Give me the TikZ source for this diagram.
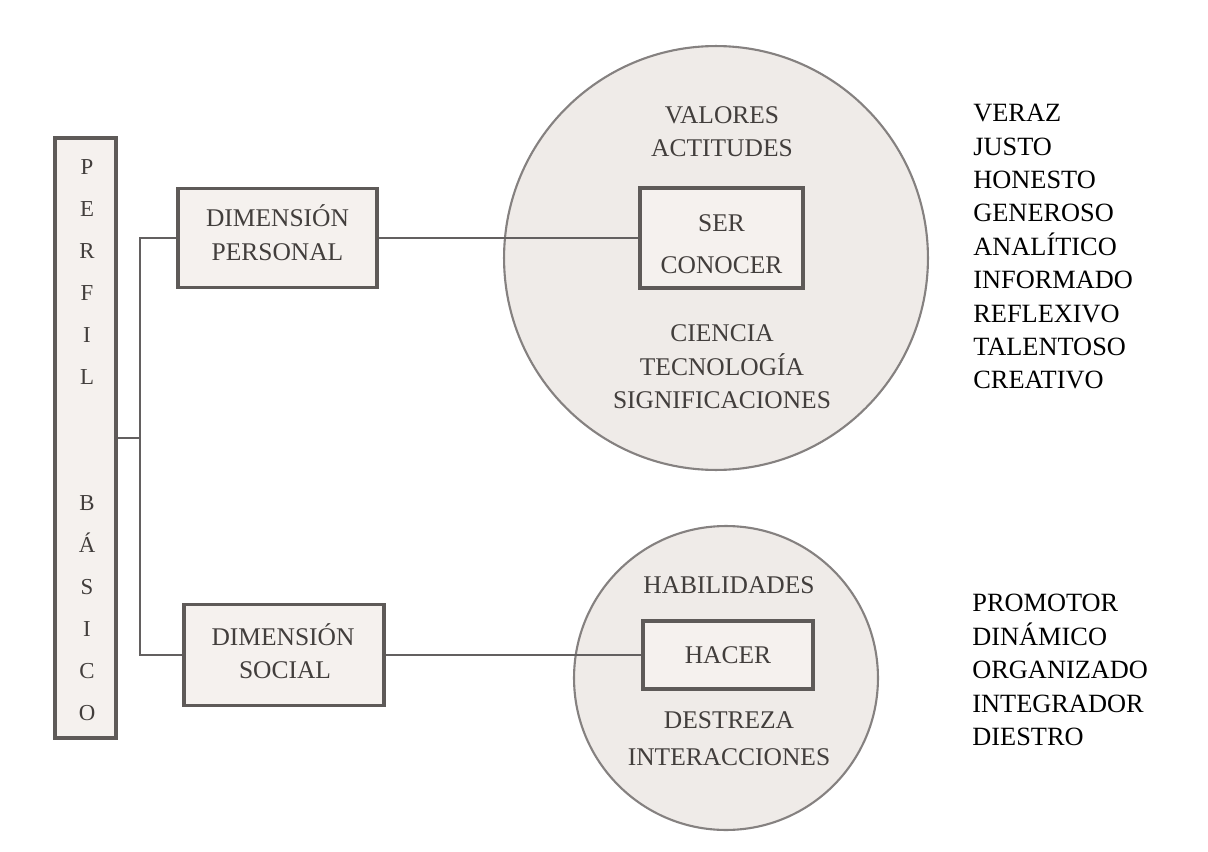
\documentclass[tikz,border=0pt]{standalone}
\usepackage{fontspec}
\setmainfont{Liberation Serif}
\definecolor{boxline}{HTML}{5E5A58}
\definecolor{boxfill}{HTML}{F5F1EE}
\definecolor{circfill}{HTML}{EFEBE8}
\definecolor{circline}{HTML}{858180}
\definecolor{textg}{HTML}{423E3C}
\definecolor{conncol}{HTML}{636060}
\tikzset{
  boxst/.style={draw=boxline, line width=1.9pt, fill=boxfill, inner sep=0pt},
  circst/.style={circle, draw=circline, line width=1.2pt, fill=circfill, inner sep=0pt},
  gtxt/.style={text=textg, font=\fontsize{14.5pt}{17pt}\selectfont, inner sep=0pt, text height=9.6pt, text depth=0pt},
  ptxt/.style={text=textg, font=\fontsize{13pt}{15pt}\selectfont, inner sep=0pt, text height=8.6pt, text depth=0pt},
  ktxt/.style={text=black, font=\fontsize{15pt}{18pt}\selectfont, inner sep=0pt, text height=9.9pt, text depth=0pt, anchor=west},
  conn/.style={draw=conncol, line width=1.7pt},
}
\begin{document}
\begin{tikzpicture}[x=0.02cm,y=-0.02cm]
\fill[white] (0,0) rectangle (1208,852);
\useasboundingbox (0,0) rectangle (1208,852);

% circles
\node[circst, minimum size=8.48cm] (bigc) at (716,258) {};
\node[circst, minimum size=6.08cm] (smallc) at (726,678) {};

% boxes
\node[boxst, minimum width=1.22cm, minimum height=12cm] (perfil) at (85.5,438) {};
\node[boxst, minimum width=3.98cm, minimum height=1.98cm] (dp) at (277.5,238) {};
\node[boxst, minimum width=4cm, minimum height=2.02cm] (ds) at (284,655) {};
\node[boxst, minimum width=3.26cm, minimum height=2cm] (ser) at (721.5,238) {};
\node[boxst, minimum width=3.4cm, minimum height=1.36cm] (hacer) at (728,655) {};

% connectors
\coordinate (jx) at (140,438);
\draw[conn] (perfil.east) -- (jx);
\draw[conn] (dp.west) -- (dp.west -| jx) -- (ds.west -| jx) -- (ds.west);
\draw[conn] (dp.east) -- (ser.west);
\draw[conn] (ds.east) -- (hacer.west);

% PERFIL BASICO letters
\foreach \l/\yy [count=\i] in {P/167,E/209,R/251,F/293,I/335,L/377,B/503,Á/545,S/587,I/629,C/671,O/713}
  \node[ptxt] (pl\i) at (87,\yy) {\l};

% box texts
\node[gtxt] (dp1) at (277.5,218) {DIMENSIÓN};
\node[gtxt] (dp2) at (277.5,252) {PERSONAL};
\node[gtxt] (ds1) at (283,637) {DIMENSIÓN};
\node[gtxt] (ds2) at (285,670) {SOCIAL};
\node[gtxt] (ser1) at (721.5,223) {SER};
\node[gtxt] (ser2) at (721.5,265) {CONOCER};
\node[gtxt] (hac1) at (728,655) {HACER};

% big circle texts
\node[gtxt] (bc1) at (722,115) {VALORES};
\node[gtxt] (bc2) at (722,148) {ACTITUDES};
\node[gtxt] (bc3) at (722,333) {CIENCIA};
\node[gtxt] (bc4) at (722,367) {TECNOLOGÍA};
\node[gtxt] (bc5) at (722,400) {SIGNIFICACIONES};

% small circle texts
\node[gtxt] (sc1) at (729,585) {HABILIDADES};
\node[gtxt] (sc2) at (729,720) {DESTREZA};
\node[gtxt] (sc3) at (729,757) {INTERACCIONES};

% right lists
\foreach \w [count=\i] in {VERAZ,JUSTO,HONESTO,GENEROSO,ANALÍTICO,INFORMADO,REFLEXIVO,TALENTOSO,CREATIVO}
  \node[ktxt] (ra\i) at (973,{113+33.4*(\i-1)}) {\w};
\foreach \w [count=\i] in {PROMOTOR,DINÁMICO,ORGANIZADO,INTEGRADOR,DIESTRO}
  \node[ktxt] (rb\i) at (972,{603+33.5*(\i-1)}) {\w};
\end{tikzpicture}
\end{document}
